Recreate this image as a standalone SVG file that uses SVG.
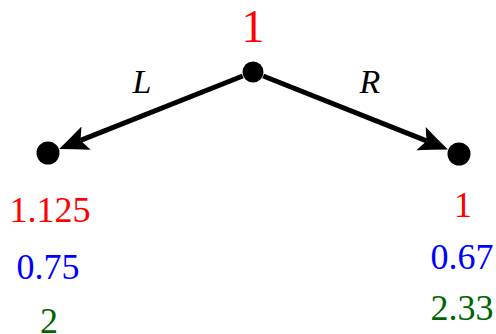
<svg xmlns="http://www.w3.org/2000/svg" width="496" height="334" viewBox="0 0 496 334">
<style>
text{font-family:'Liberation Serif','DejaVu Serif',serif;text-anchor:middle}
.n{fill:#000}
.e{stroke:#000;stroke-width:5;fill:none;marker-end:url(#ah)}
.r{fill:#ff0000}.b{fill:#0000ff}.g{fill:#006400}
.lab{font-style:italic;font-size:34px;fill:#000}
.v{font-size:36px}
</style>
<defs>
<marker id="ah" markerUnits="userSpaceOnUse" markerWidth="30" markerHeight="28" viewBox="0 0 30 28" refX="6" refY="14" orient="auto">
<path d="M29,14 Q14,8 0,1.5 L6,14 L0,26.5 Q14,20 29,14 Z" fill="#000"/>
</marker>
</defs>
<g id="connectors">
<path class="e" d="M242.7,76 L80.5,140.4"/>
<path class="e" d="M263.2,76 L426.6,140.9"/>
<text class="lab" x="142" y="93">L</text>
<text class="lab" x="370" y="93">R</text>
</g>
<g id="root">
<circle class="n" cx="253" cy="72" r="10.5"/>
<text class="r" x="253" y="42" font-size="46">1</text>
</g>
<g id="left">
<circle class="n" cx="48" cy="153" r="11.5"/>
<text class="v r" x="50" y="222">1.125</text>
<text class="v b" x="48" y="279">0.75</text>
<text class="v g" x="49" y="333">2</text>
</g>
<g id="right">
<circle class="n" cx="459" cy="154" r="11.5"/>
<text class="v r" x="463" y="217">1</text>
<text class="v b" x="462" y="269">0.67</text>
<text class="v g" x="462" y="320">2.33</text>
</g>
</svg>
